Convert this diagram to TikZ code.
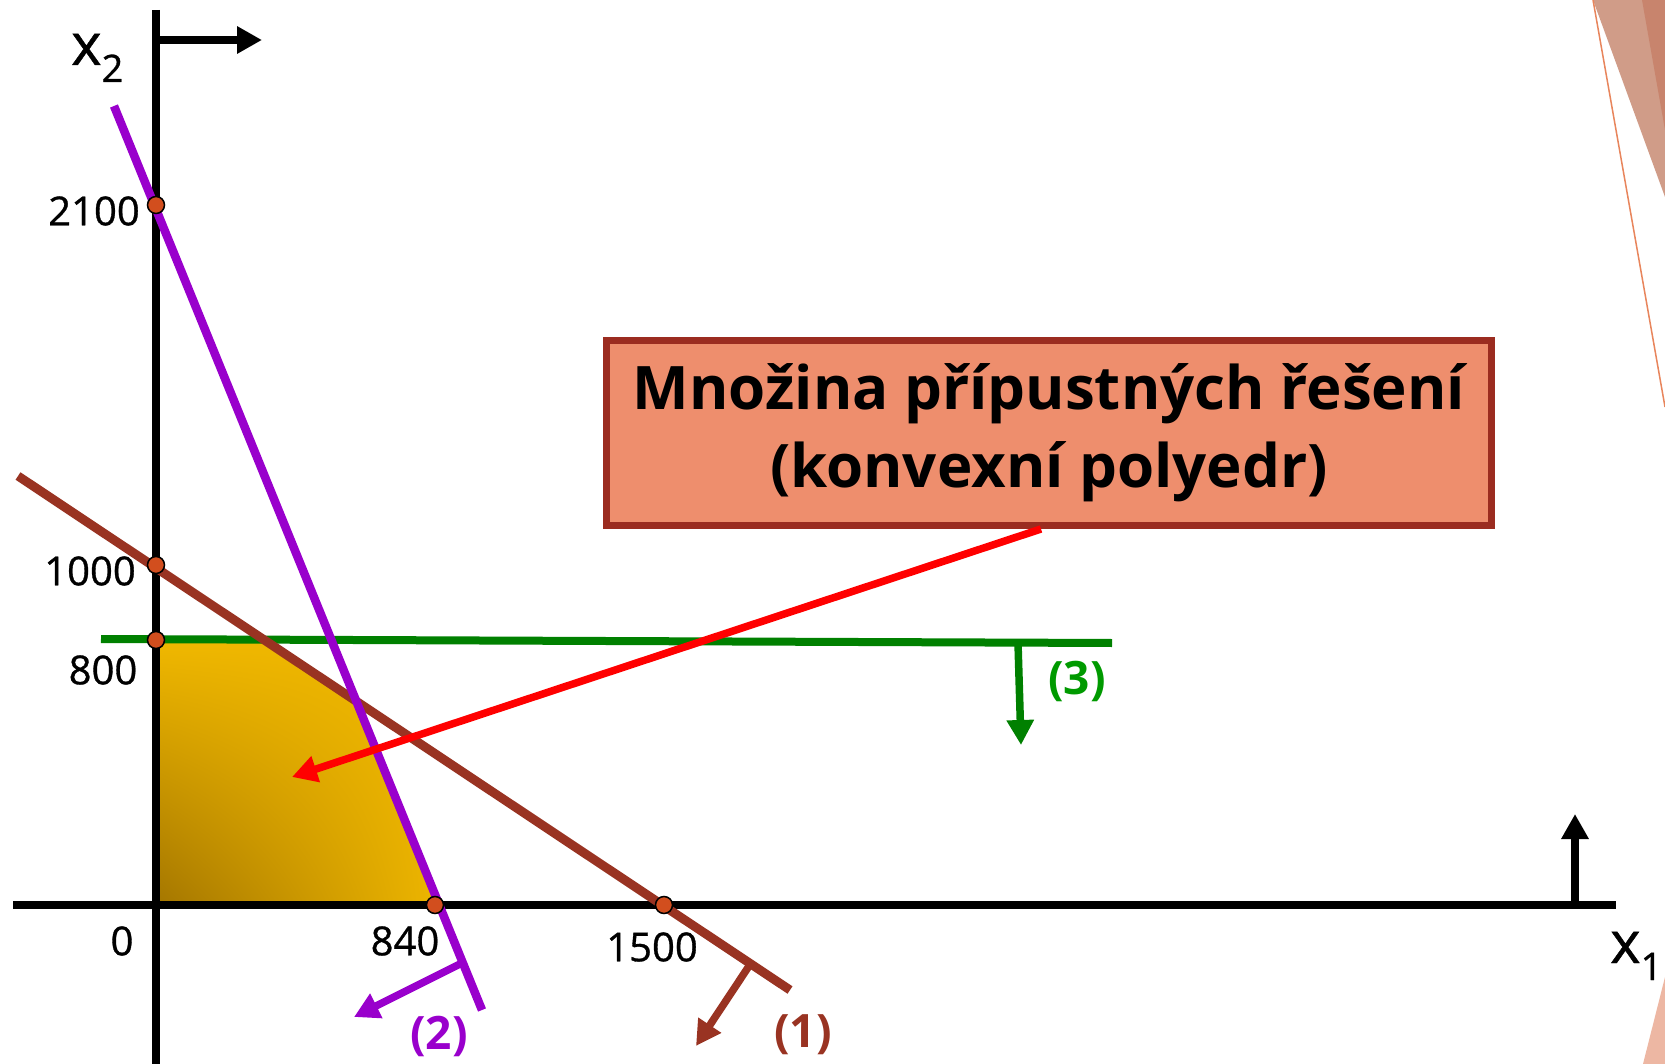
\documentclass[tikz,border=0pt]{standalone}
\usepackage{fontspec}
\setmainfont{Open Sans}
\newfontfamily\numfont{Open Sans}[FakeBold=0.8]
\usetikzlibrary{arrows.meta,shadings}
\definecolor{purp}{HTML}{9900CC}
\definecolor{brn}{HTML}{993322}
\definecolor{grn}{HTML}{008000}
\definecolor{grnlab}{HTML}{009A00}
\definecolor{redl}{HTML}{FF0000}
\definecolor{ptfill}{HTML}{D24E1E}
\definecolor{boxfill}{HTML}{EE8E6D}
\definecolor{boxdraw}{HTML}{9B2C20}
\definecolor{gold}{HTML}{F0B800}
\definecolor{darkgold}{HTML}{A47600}
\definecolor{decoA}{HTML}{D09C88}
\definecolor{decoB}{HTML}{C8846D}
\definecolor{decoL}{HTML}{E8855C}
\definecolor{decoC}{HTML}{EDB7A3}
\tikzset{
  axisline/.style={line width=8.5pt, black},
  axisarrow/.style={line width=8pt, black, -{Triangle[length=25pt,width=26pt]}},
  cline/.style={line width=8.5pt},
  carrow/.style={line width=7.5pt, -{Triangle[length=25pt,width=26pt]}},
  pt/.style={circle, fill=ptfill, draw=black, line width=1.5pt, minimum size=17pt, inner sep=0pt},
  numlab/.style={font=\numfont\fontsize{40}{48}\selectfont, inner sep=0pt},
  climb/.style={font=\fontsize{46}{50}\selectfont\bfseries, inner sep=0pt},
  axlab/.style={inner sep=0pt, anchor=base west},
  infobox/.style={draw=boxdraw, fill=boxfill, line width=7pt, minimum width=885pt, minimum height=185pt,
    align=center, inner sep=0pt, font=\bfseries\fontsize{60}{78}\selectfont}
}
\begin{document}
\begin{tikzpicture}[x=1pt,y=-1pt]
\useasboundingbox (0,0) rectangle (1665,1064);
\fill[white] (0,0) rectangle (1665,1064);
% decoration top right
\fill[decoA] (1593,0) -- (1665,0) -- (1665,197) -- cycle;
\fill[decoB] (1642,0) -- (1665,0) -- (1665,130) -- cycle;
\draw[decoL, line width=1.5pt] (1593,0) -- (1665,407);
\fill[decoC] (1643,1064) -- (1665,977) -- (1665,1064) -- cycle;

% key points
\coordinate (O) at (156,905);
\coordinate (Y2100) at (156,205);
\coordinate (Y1000) at (156,565);
\coordinate (Y800) at (156,640);
\coordinate (X840) at (435,905);
\coordinate (X1500) at (664,905);
\coordinate (C1) at (268,641);
\coordinate (C2) at (352,697);

% feasible region
\shade[lower left=darkgold, upper right=gold, upper left=gold, lower right=gold!95!darkgold]
  (O) -- (Y800) -- (C1) -- (C2) -- (X840) -- cycle;

% axes
\coordinate (yaTop) at (156,10);
\coordinate (yaBot) at (156,1064);
\coordinate (xaL) at (13,905);
\coordinate (xaR) at (1616,905);
\coordinate (topA) at (156,40);
\coordinate (topB) at (262,40);
\coordinate (rA) at (1575,905);
\coordinate (rB) at (1575,814);
\draw[axisline] (yaTop) -- (yaBot);
\draw[axisline] (xaL) -- (xaR);
\draw[axisarrow] (topA) -- (topB);
\draw[axisarrow] (rA) -- (rB);

% constraint lines
\coordinate (p2a) at (114,106);
\coordinate (p2b) at (482,1010);
\coordinate (p1a) at (18,476);
\coordinate (p1b) at (790,990);
\coordinate (g1) at (101,639);
\coordinate (g2) at (1112,643);
\draw[cline, grn, line width=8pt] (g1) -- (g2);
\draw[cline, brn, line width=9pt] (p1a) -- (p1b);
\draw[cline, purp] (p2a) -- (p2b);

% direction arrows
\coordinate (d3a) at (1018,643);
\coordinate (d3b) at (1021,745);
\coordinate (d2a) at (460,964);
\coordinate (d2b) at (354,1017);
\coordinate (d1a) at (751,963);
\coordinate (d1b) at (696,1046);
\draw[carrow, grn] (d3a) -- (d3b);
\draw[carrow, purp] (d2a) -- (d2b);
\draw[carrow, brn] (d1a) -- (d1b);
\node[climb, text=grnlab] (l3) at (1077,681) {(3)};
\node[climb, text=purp] (l2) at (439,1036) {(2)};
\node[climb, text=brn] (l1) at (803,1035) {(1)};

% info box and arrow
\node[infobox] (box) at (1049,433) {Množina přípustných řešení\\(konvexní polyedr)};
\coordinate (tipR) at (292,777);
\draw[carrow, redl] ([xshift=-8pt]box.south) -- (tipR);

% points
\node[pt] (q1) at (Y2100) {};
\node[pt] (q2) at (Y1000) {};
\node[pt] (q3) at (Y800) {};
\node[pt] (q4) at (X840) {};
\node[pt] (q5) at (X1500) {};

% tick labels
\node[numlab] (t2100) at (94,211) {2100};
\node[numlab] (t1000) at (90,571) {1000};
\node[numlab] (t800) at (103,670) {800};
\node[numlab] (t0) at (122,941) {0};
\node[numlab] (t840) at (405,941) {840};
\node[numlab] (t1500) at (652,947) {1500};

% axis labels
\node[axlab] (lx2) at (71,65) {\numfont\fontsize{58}{58}\selectfont x\raisebox{-17pt}{\fontsize{38}{38}\selectfont 2}};
\node[axlab] (lx1) at (1610,963) {\numfont\fontsize{58}{58}\selectfont x\raisebox{-17pt}{\fontsize{38}{38}\selectfont 1}};
\end{tikzpicture}
\end{document}
